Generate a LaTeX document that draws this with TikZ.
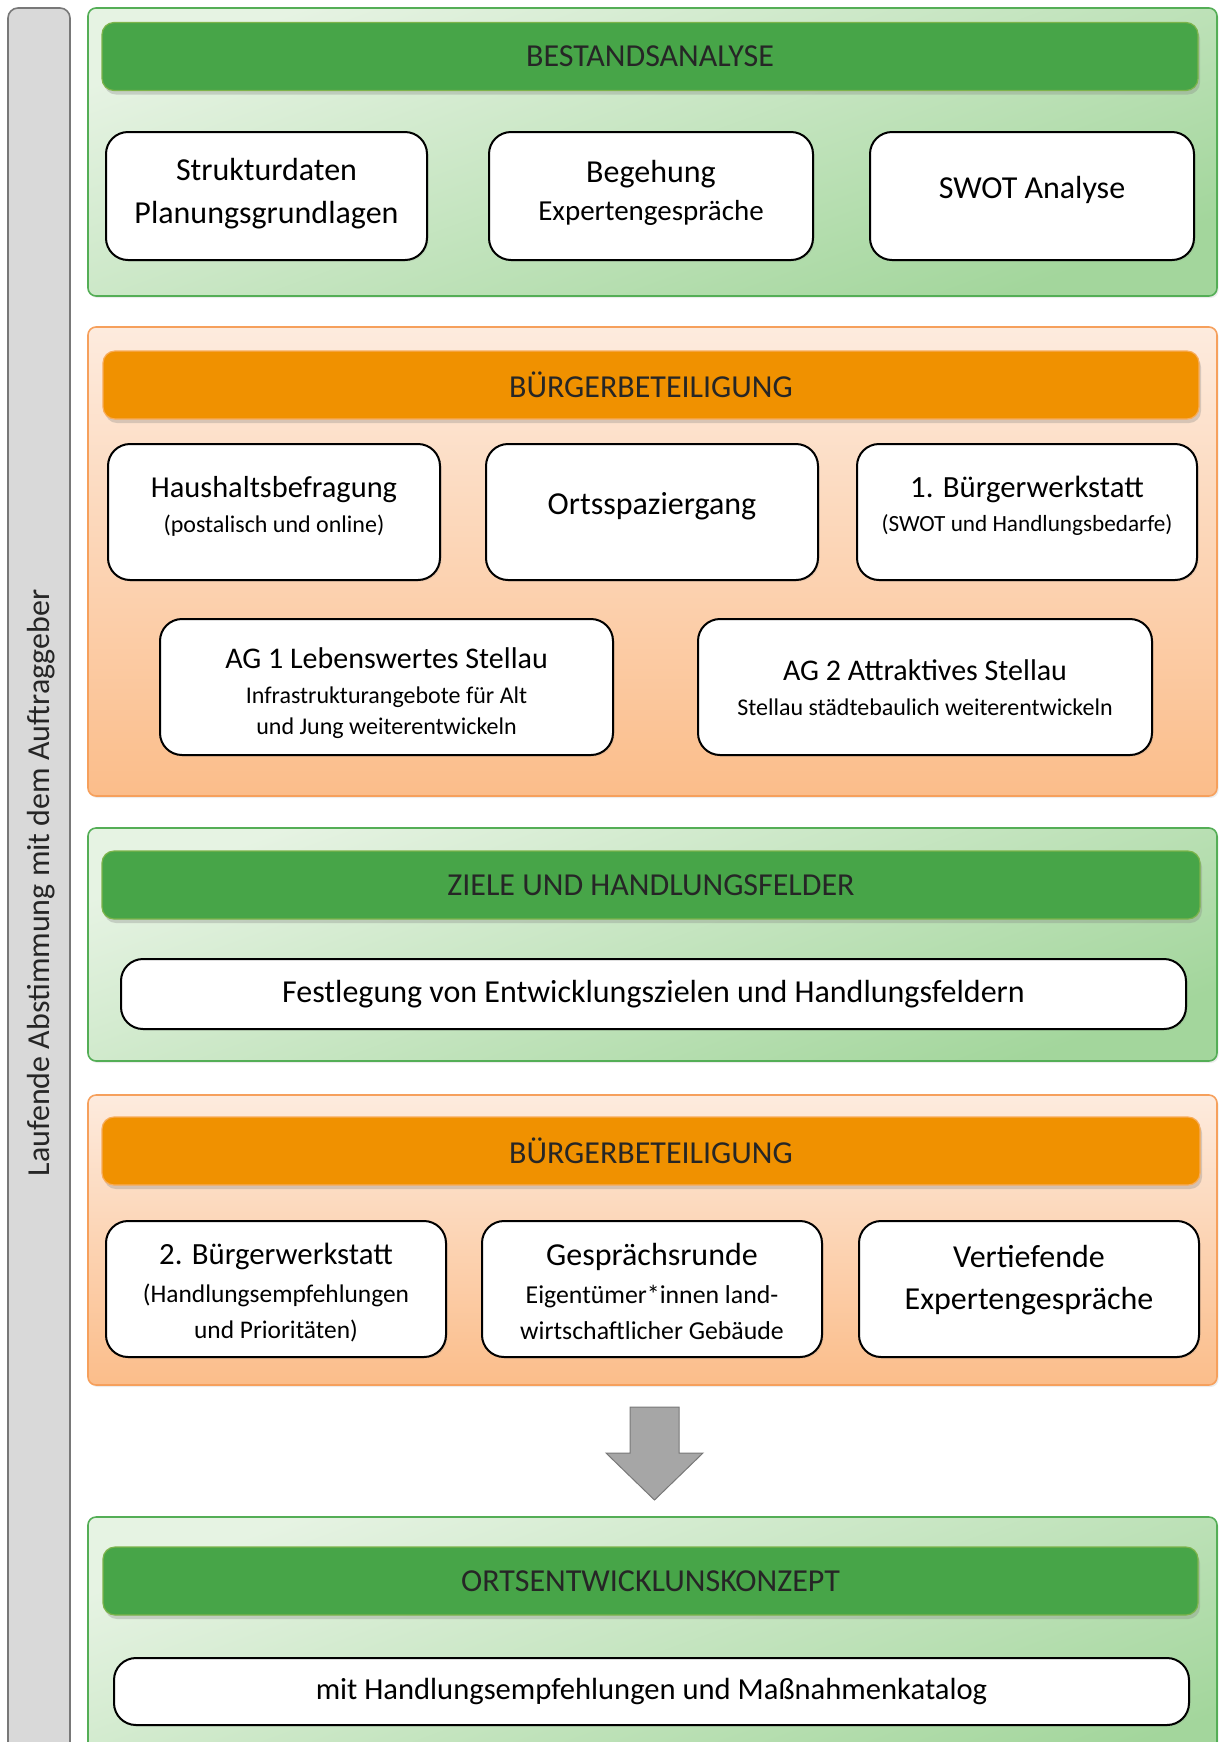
\documentclass[tikz,border=0pt]{standalone}
\usepackage{fontspec}
\setmainfont{Carlito}
\usetikzlibrary{shadows}
\definecolor{kopfgruen}{RGB}{71,165,72}
\definecolor{kopfgruenrand}{RGB}{125,180,75}
\definecolor{feldgruenhell}{RGB}{230,243,227}
\definecolor{feldgruendunkel}{RGB}{163,214,156}
\definecolor{feldgruenrand}{RGB}{84,174,86}
\definecolor{kopforange}{RGB}{240,145,0}
\definecolor{kopforangerand}{RGB}{248,172,90}
\definecolor{feldorangehell}{RGB}{253,235,222}
\definecolor{feldorangedunkel}{RGB}{251,189,138}
\definecolor{feldorangerand}{RGB}{246,160,92}
\definecolor{leistegrau}{RGB}{217,217,217}
\definecolor{leisterand}{RGB}{120,120,120}
\definecolor{pfeilgrau}{RGB}{166,166,166}
\definecolor{textgrau}{RGB}{38,38,38}
\newcommand{\sz}[1]{\fontsize{#1pt}{14pt}\selectfont}

\begin{document}
\begin{tikzpicture}[x=0.5pt, y=-0.5pt,
    leiste/.style={draw=leisterand, line width=0.8pt, fill=leistegrau, rounded corners=5pt},
    leistentext/.style={rotate=90, text=textgrau, font=\fontsize{16}{20}\selectfont},
    gruenfeld/.style={draw=feldgruenrand, line width=0.8pt, rounded corners=4pt, top color=feldgruenhell, bottom color=feldgruendunkel, shading angle=20, minimum width=564.5pt, drop shadow={opacity=0.15, shadow xshift=0.8pt, shadow yshift=-1pt}},
    orangefeld/.style={draw=feldorangerand, line width=0.8pt, rounded corners=4pt, top color=feldorangehell, bottom color=feldorangedunkel, minimum width=564.5pt, drop shadow={opacity=0.15, shadow xshift=0.8pt, shadow yshift=-1pt}},
    kopf/.style={line width=0.6pt, rounded corners=6pt, minimum width=548pt, minimum height=34pt, text=textgrau, font=\fontsize{16}{20}\selectfont, drop shadow={opacity=0.3, shadow xshift=1pt, shadow yshift=-2pt}},
    gruenkopf/.style={kopf, fill=kopfgruen, draw=kopfgruenrand},
    orangekopf/.style={kopf, fill=kopforange, draw=kopforangerand},
    kasten/.style={draw=black, line width=1pt, fill=white, rounded corners=11pt, drop shadow={opacity=0.15, shadow xshift=0.8pt, shadow yshift=-0.8pt}},
    schrift/.style={align=center, inner sep=0pt, font=\fontsize{16}{20}\selectfont},
    pfeil/.style={fill=pfeilgrau, draw=leisterand, line width=0.5pt}]
                    \useasboundingbox (0,0) rectangle (1219,1742);

                    \node[leiste, minimum width=31pt, minimum height=891pt] (leiste) at (39,899) {};
                    \node[leistentext] (abstimmung) at (41,883) {Laufende Abstimmung mit dem Auftraggeber};

                    \node[gruenfeld, minimum height=144pt] (feld1) at (652.5,152) {};
                    \node[gruenkopf] (kopf1) at (650,56.5) {BESTANDSANALYSE};
                    \node[kasten, minimum width=160.5pt, minimum height=64pt] (struktur) at (266.5,196) {};
                    \node[kasten, minimum width=162pt, minimum height=64pt] (begehung) at (651,196) {};
                    \node[kasten, minimum width=162pt, minimum height=64pt] (swot) at (1032,196) {};
                    \node[schrift] (struktur-t) at (266.5,193.5) {Strukturdaten\\[1.5pt]Planungsgrundlagen};
                    \node[schrift] (begehung-t) at (651,193) {Begehung\\[-1pt]{\sz{14.5}Expertengespräche}};
                    \node[schrift] (swot-t) at (1032,189.5) {SWOT Analyse};

                    \node[orangefeld, minimum height=234.5pt] (feld2) at (652.5,561.5) {};
                    \node[orangekopf] (kopf2) at (651,385) {BÜRGERBETEILIGUNG};
                    \node[kasten, minimum width=166pt, minimum height=68pt] (haushalt) at (274,512) {};
                    \node[kasten, minimum width=166pt, minimum height=68pt] (spazier) at (652,512) {};
                    \node[kasten, minimum width=170pt, minimum height=68pt] (werkstatt1) at (1027,512) {};
                    \node[kasten, minimum width=226.5pt, minimum height=68pt] (ag1) at (386.5,687) {};
                    \node[kasten, minimum width=227pt, minimum height=68pt] (ag2) at (925,687) {};
                    \node[schrift] (haushalt-t) at (274,506.5) {{\sz{15.2}Haushaltsbefragung}\\[-2.5pt]{\sz{12}(postalisch und online)}};
                    \node[schrift] (spazier-t) at (652,506) {Ortsspaziergang};
                    \node[schrift] (werkstatt1-t) at (1027,506) {{\sz{15.4}1. Bürgerwerkstatt}\\[-3pt]{\sz{11.6}(SWOT und Handlungsbedarfe)}};
                    \node[schrift] (ag1-t) at (386.5,693) {{\sz{15}AG 1 Lebenswertes Stellau}\\[-2.5pt]{\sz{12}Infrastrukturangebote für Alt}\\[-4.3pt]{\sz{12}und Jung weiterentwickeln}};
                    \node[schrift] (ag2-t) at (925,687.5) {{\sz{15}AG 2 Attraktives Stellau}\\[-2.5pt]{\sz{12}Stellau städtebaulich weiterentwickeln}};

                    \node[gruenfeld, minimum height=116.5pt] (feld3) at (652.5,944.5) {};
                    \node[gruenkopf, minimum width=549pt] (kopf3) at (651,885) {ZIELE UND HANDLUNGSFELDER};
                    \node[kasten, schrift, minimum width=532.5pt, minimum height=35pt] (ziele) at (653.5,994) {Festlegung von Entwicklungszielen und Handlungsfeldern};

                    \node[orangefeld, minimum height=145pt] (feld4) at (652.5,1240) {};
                    \node[orangekopf, minimum width=549pt] (kopf4) at (651,1151) {BÜRGERBETEILIGUNG};
                    \node[kasten, minimum width=170pt, minimum height=68pt] (werkstatt2) at (276,1289) {};
                    \node[kasten, minimum width=170pt, minimum height=68pt] (runde) at (652,1289) {};
                    \node[kasten, minimum width=170pt, minimum height=68pt] (experten) at (1029,1289) {};
                    \node[schrift] (werkstatt2-t) at (276,1292.5) {{\sz{15.4}2. Bürgerwerkstatt}\\[-1pt]{\sz{12.7}(Handlungsempfehlungen}\\[-2.2pt]{\sz{12.7}und Prioritäten)}};
                    \node[schrift] (runde-t) at (652,1291.5) {Gesprächsrunde\\[-0.8pt]{\sz{12.9}Eigentümer*innen land-}\\[-2pt]{\sz{12.9}wirtschaftlicher Gebäude}};
                    \node[schrift] (experten-t) at (1029,1280) {Vertiefende\\[1.3pt]Expertengespräche};

                    \coordinate (pfeilfuss) at (654.5,1407);
                    \draw[pfeil] (pfeilfuss) ++(-24.5,0) -- ++(49,0) -- ++(0,46) -- ++(24,0) -- ++(-48.5,47) -- ++(-48.5,-47) -- ++(24,0) -- cycle;

                    \node[gruenfeld, minimum height=136.5pt] (feld5) at (652.5,1653.5) {};
                    \node[gruenkopf, minimum width=547.5pt] (kopf5) at (650.5,1581) {ORTSENTWICKLUNSKONZEPT};
                    \node[kasten, schrift, font=\fontsize{15.3}{20}\selectfont, minimum width=537.5pt, minimum height=33.5pt] (konzept) at (651.5,1691.5) {mit Handlungsempfehlungen und Maßnahmenkatalog};
                \end{tikzpicture}
\end{document}
